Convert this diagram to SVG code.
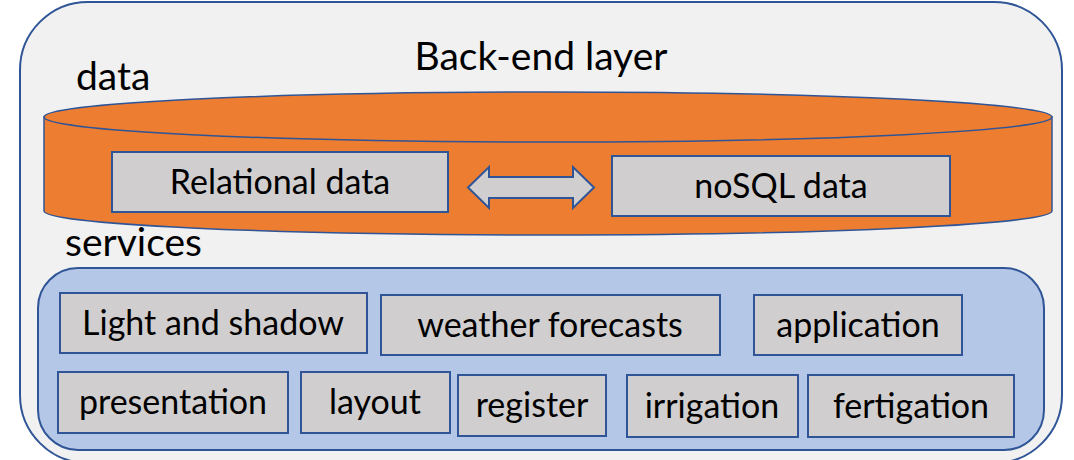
<svg xmlns="http://www.w3.org/2000/svg" width="1074" height="460" viewBox="0 0 1074 460">
<style>
.box{fill:#d0cece;stroke:#2f5597;stroke-width:2}
.t{font-family:Lato,"Open Sans",sans-serif;font-size:34px;fill:#000}
.h{font-size:39px}
.c{text-anchor:middle}
</style>
<rect width="1074" height="460" fill="#fff"/>
<g id="backend">
<rect x="20" y="2" width="1042" height="461" rx="68" fill="#f1f1f1" stroke="#2f5597" stroke-width="2"/>
<text class="t h c" x="541" y="70">Back-end layer</text>
</g>
<g id="data">
<text class="t h" x="76" y="90">data</text>
<path d="M44,117 L44,211 A504,24 0 0 0 1052,211 L1052,117 Z" fill="#ed7d31" stroke="#2f5597" stroke-width="1.5"/>
<ellipse cx="548" cy="117" rx="504" ry="25" fill="#ed7d31" stroke="#2f5597" stroke-width="1.5"/>
</g>
<g id="relational">
<rect class="box" x="112" y="152" width="336" height="60"/>
<text class="t c" x="280" y="194">Relational data</text>
</g>
<g id="nosql">
<rect class="box" x="612" y="156" width="338" height="60"/>
<text class="t c" x="781" y="198">noSQL data</text>
</g>
<g id="connectors">
<path d="M468,187.5 L489,167 L489,177 L573,177 L573,167 L594,187.5 L573,208 L573,198 L489,198 L489,208 Z" fill="#d0cece" stroke="#2f5597" stroke-width="2"/>
</g>
<g id="services">
<text class="t h" x="65" y="256">services</text>
<rect x="38" y="268" width="1006" height="182" rx="40" fill="#b4c7e7" stroke="#2f5597" stroke-width="2"/>
</g>
<g id="light"><rect class="box" x="60" y="293" width="307" height="60"/><text class="t c" x="213" y="335">Light and shadow</text></g>
<g id="weather"><rect class="box" x="381" y="295" width="339" height="60"/><text class="t c" x="550" y="337">weather forecasts</text></g>
<g id="application"><rect class="box" x="754" y="295" width="208" height="60"/><text class="t c" x="858" y="337">application</text></g>
<g id="presentation"><rect class="box" x="58" y="372" width="230" height="61"/><text class="t c" x="173" y="414">presentation</text></g>
<g id="layout"><rect class="box" x="301" y="372" width="149" height="61"/><text class="t c" x="375" y="414">layout</text></g>
<g id="register"><rect class="box" x="458" y="375" width="148" height="61"/><text class="t c" x="532" y="417">register</text></g>
<g id="irrigation"><rect class="box" x="627" y="375" width="171" height="62"/><text class="t c" x="712" y="418">irrigation</text></g>
<g id="fertigation"><rect class="box" x="808" y="375" width="206" height="62"/><text class="t c" x="911" y="418">fertigation</text></g>
</svg>
